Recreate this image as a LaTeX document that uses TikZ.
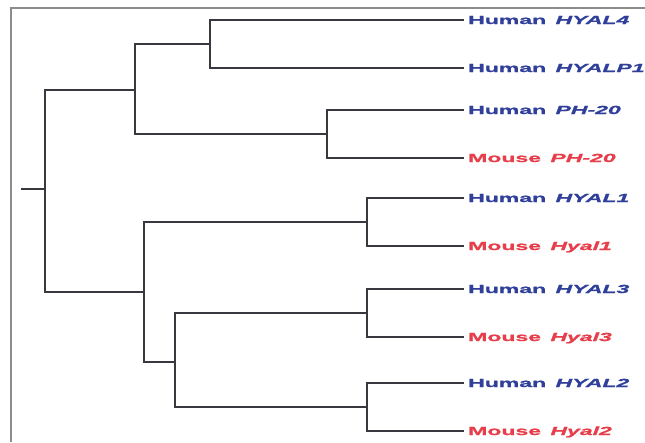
\documentclass[tikz,border=0pt]{standalone}
\usepackage{fontspec}
\newfontfamily\treefont[FakeStretch=1.95,
  BoldFont={Liberation Sans Bold},
  BoldItalicFont={Liberation Sans Bold Italic},
  BoldFeatures={FakeBold=1.2,FakeStretch=1.95},
  BoldItalicFeatures={FakeBold=1.2,FakeStretch=1.95}]{Liberation Sans}
\definecolor{humanblue}{HTML}{2F3F9A}
\definecolor{mousered}{HTML}{E63E4A}
\definecolor{branch}{HTML}{38383E}
\newcommand{\taxonname}[2]{#1\hspace{3pt} \textit{#2}}
\begin{document}
\begin{tikzpicture}[x=1pt,y=-1pt,
  branchline/.style={draw=branch,line width=2pt,line cap=rect,line join=miter},
  framerule/.style={draw=black!45,line width=1.2pt},
  taxon/.style={anchor=base west,inner sep=0pt,
    font=\treefont\bfseries\fontsize{11.8}{14}\selectfont},
  human/.style={taxon,text=humanblue},
  mouse/.style={taxon,text=mousered}]
\useasboundingbox (0,0) rectangle (645,442);
% open frame on the left and top
\draw[framerule] (11,442) -- (11,8) -- (645,8);

% internal nodes
\coordinate (stub) at (22,189);
\coordinate (root) at (45,189);
\coordinate (A) at (135,90);
\coordinate (B) at (210,44);
\coordinate (C) at (327,134);
\coordinate (D) at (144,292);
\coordinate (E) at (367,222);
\coordinate (F) at (175,362);
\coordinate (G) at (367,313);
\coordinate (H) at (367,407);

% tips
\coordinate (t1) at (463,20);
\coordinate (t2) at (463,68);
\coordinate (t3) at (463,110);
\coordinate (t4) at (463,158);
\coordinate (t5) at (463,198);
\coordinate (t6) at (463,246);
\coordinate (t7) at (463,289);
\coordinate (t8) at (463,337);
\coordinate (t9) at (463,383);
\coordinate (t10) at (463,431);

% branches
\draw[branchline] (stub) -- (root);
\draw[branchline] (root) |- (A);
\draw[branchline] (root) |- (D);
\draw[branchline] (A) |- (B);
\draw[branchline] (A) |- (C);
\draw[branchline] (B) |- (t1);
\draw[branchline] (B) |- (t2);
\draw[branchline] (C) |- (t3);
\draw[branchline] (C) |- (t4);
\draw[branchline] (D) |- (E);
\draw[branchline] (D) |- (F);
\draw[branchline] (E) |- (t5);
\draw[branchline] (E) |- (t6);
\draw[branchline] (F) |- (G);
\draw[branchline] (F) |- (H);
\draw[branchline] (G) |- (t7);
\draw[branchline] (G) |- (t8);
\draw[branchline] (H) |- (t9);
\draw[branchline] (H) |- (t10);

% taxon labels
\node[human] (n1) at ([xshift=5pt,yshift=-4pt]t1) {\taxonname{Human}{HYAL4}};
\node[human] (n2) at ([xshift=5pt,yshift=-4pt]t2) {\taxonname{Human}{HYALP1}};
\node[human] (n3) at ([xshift=5pt,yshift=-4pt]t3) {\taxonname{Human}{PH-20}};
\node[mouse] (n4) at ([xshift=5pt,yshift=-4pt]t4) {\taxonname{Mouse}{PH-20}};
\node[human] (n5) at ([xshift=5pt,yshift=-4pt]t5) {\taxonname{Human}{HYAL1}};
\node[mouse] (n6) at ([xshift=5pt,yshift=-4pt]t6) {\taxonname{Mouse}{Hyal1}};
\node[human] (n7) at ([xshift=5pt,yshift=-4pt]t7) {\taxonname{Human}{HYAL3}};
\node[mouse] (n8) at ([xshift=5pt,yshift=-4pt]t8) {\taxonname{Mouse}{Hyal3}};
\node[human] (n9) at ([xshift=5pt,yshift=-4pt]t9) {\taxonname{Human}{HYAL2}};
\node[mouse] (n10) at ([xshift=5pt,yshift=-4pt]t10) {\taxonname{Mouse}{Hyal2}};
\end{tikzpicture}
\end{document}
